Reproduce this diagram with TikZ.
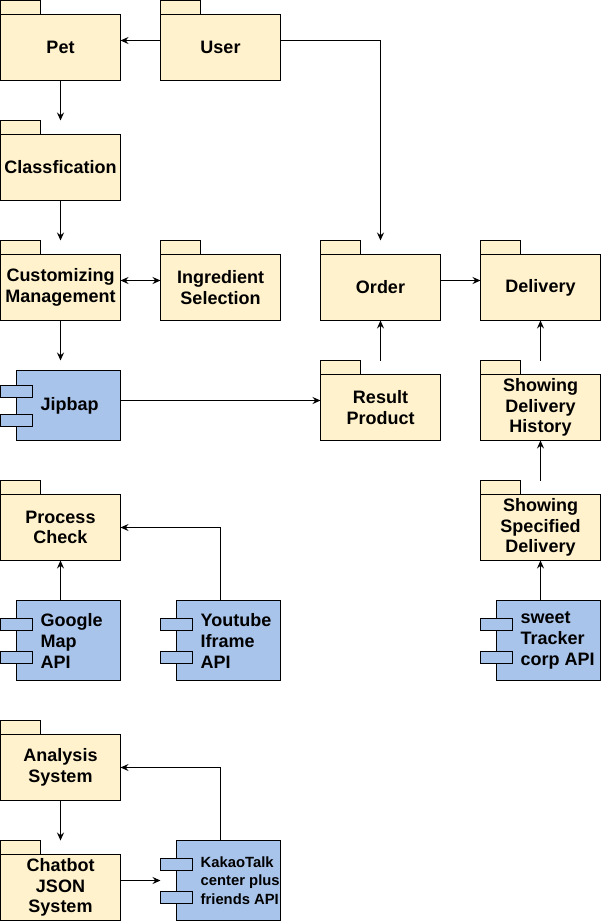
\documentclass[tikz,border=0pt]{standalone}
\usepackage{fontspec}
\setmainfont{Liberation Sans}
\usetikzlibrary{arrows.meta}
\definecolor{pkgfill}{HTML}{FFF2CC}
\definecolor{cmpfill}{HTML}{A9C4EB}
\tikzset{
  frame/.style={minimum width=120pt, minimum height=80pt, inner sep=0pt, outer sep=0pt, draw=none},
  pkgshape/.style={draw=black, fill=pkgfill, line width=1pt},
  cmpshape/.style={draw=black, fill=cmpfill, line width=1pt},
  lbl/.style={font=\fontsize{18}{20.5}\selectfont\bfseries, align=center, inner sep=0pt},
  clbl/.style={font=\fontsize{18}{21}\selectfont\bfseries, align=left, anchor=west, inner sep=0pt},
  slbl/.style={font=\fontsize{14.8}{18.5}\selectfont\bfseries, align=left, anchor=west, inner sep=0pt},
  tip/.tip={Stealth[length=8pt,width=7pt,inset=2.8pt]},
  arr/.style={-tip, line width=1pt},
  darr/.style={tip-tip, line width=1pt},
}
% package: name, left x, top y, text
\newcommand\pkg[4]{%
  \node[frame, anchor=north west] (#1) at (#2,#3) {};
  \draw[pkgshape] (#2,#3) rectangle (#2+40,#3+14);
  \draw[pkgshape] (#2,#3+14) rectangle (#1.south east);
  \node[lbl] (#1-t) at (#2+60,#3+47) {#4};
}
% component: name, left x, frame top, body top, port1 top, port2 top, text, text style
\newcommand\cmp[8]{%
  \node[frame, anchor=north west] (#1) at (#2,#3) {};
  \draw[cmpshape] (#2+16,#4) rectangle (#1.south east);
  \draw[cmpshape] (#2,#5) rectangle (#2+32,#5+11.5);
  \draw[cmpshape] (#2,#6) rectangle (#2+32,#6+11.5);
  \node[#8] (#1-t) at (#2+40,{(#4+#3+80)/2}) {#7};
}
\begin{document}
\begin{tikzpicture}[x=1pt,y=-1pt]
\useasboundingbox (-0.5,-0.5) rectangle (600.5,920.5);
\pkg{pet}{0}{0}{Pet}
\pkg{user}{160}{0}{User}
\pkg{class}{0}{120}{Classfication}
\pkg{cust}{0}{240}{Customizing\\Management}
\pkg{ingr}{160}{240}{Ingredient\\Selection}
\pkg{order}{320}{240}{Order}
\pkg{deliv}{480}{240}{Delivery}
\cmp{jip}{0}{360}{370}{385}{414}{Jipbap}{clbl}
\pkg{result}{320}{360}{Result\\Product}
\pkg{hist}{480}{360}{Showing\\Delivery\\History}
\pkg{proc}{0}{480}{Process\\Check}
\pkg{spec}{480}{480}{Showing\\Specified\\Delivery}
\cmp{google}{0}{600}{600}{618}{651}{Google\\Map\\API}{clbl}
\cmp{yt}{160}{600}{600}{618}{651}{Youtube\\Iframe\\API}{clbl}
\cmp{sweet}{480}{600}{600}{618}{651}{sweet\\Tracker\\corp API}{clbl}
\pkg{anal}{0}{720}{Analysis\\System}
\pkg{chat}{0}{840}{Chatbot\\JSON\\System}
\cmp{kakao}{160}{840}{840}{858}{891}{KakaoTalk\\center plus\\friends API}{slbl}

\draw[arr] (user.west) -- (pet.east);
\draw[arr] (user.east) -| (order.north);
\draw[arr] (pet.south) -- (class.north);
\draw[arr] (class.south) -- (cust.north);
\draw[darr] (cust.east) -- (ingr.west);
\draw[arr] (cust.south) -- (jip.north);
\draw[arr] (jip.east) -- (result.west);
\draw[arr] (result.north) -- (order.south);
\draw[arr] (order.east) -- (deliv.west);
\draw[arr] (hist.north) -- (deliv.south);
\draw[arr] (spec.north) -- (hist.south);
\draw[arr] (sweet.north) -- (spec.south);
\draw[arr] (google.north) -- (proc.south);
\draw[arr] (yt.north) |- ([yshift=-7pt]proc.east);
\draw[arr] (anal.south) -- (chat.north);
\draw[arr] (kakao.north) |- ([yshift=-7pt]anal.east);
\draw[arr] (chat.east) -- (kakao.west);
\end{tikzpicture}
\end{document}
